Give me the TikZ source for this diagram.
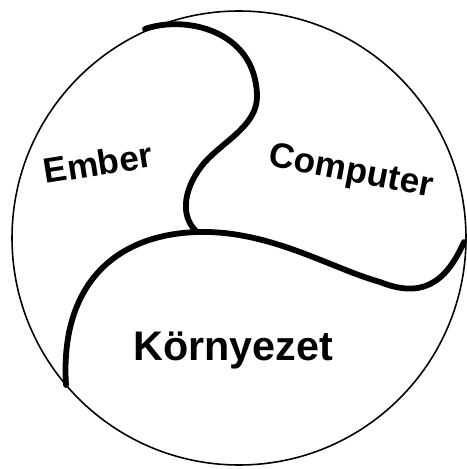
\documentclass[tikz,border=0pt]{standalone}
\usepackage{fontspec}
\setmainfont{Liberation Sans}
\begin{document}
\begin{tikzpicture}[x=0.02cm,y=-0.02cm,
  rim/.style={line width=0.9pt},
  divider/.style={line width=3.3pt,line cap=round,line join=round},
  region/.style={font=\fontsize{20}{20}\bfseries}]
  \useasboundingbox (0,0) rectangle (466,469);
  \draw[rim] (239,238) circle [radius=227];
  \coordinate (top) at (145,29);
  \coordinate (junction) at (197,232);
  \coordinate (right) at (464,242);
  \coordinate (left) at (66,385);
  \draw[divider] (top) .. controls (185,15) and (255,30) .. (257,95)
    .. controls (258,125) and (225,140) .. (205,162)
    .. controls (185,185) and (178,215) .. (junction);
  \draw[divider] (junction) .. controls (270,230) and (330,268) .. (380,282)
    .. controls (420,298) and (445,285) .. (right);
  \draw[divider] (junction) .. controls (110,235) and (60,290) .. (left);
  \node[region,rotate=9] (ember) at (98,163) {Ember};
  \node[region,rotate=-11] (computer) at (351,173) {Computer};
  \node[region,font=\fontsize{23.5}{23.5}\bfseries] (kornyezet) at (233,350) {Környezet};
\end{tikzpicture}
\end{document}
